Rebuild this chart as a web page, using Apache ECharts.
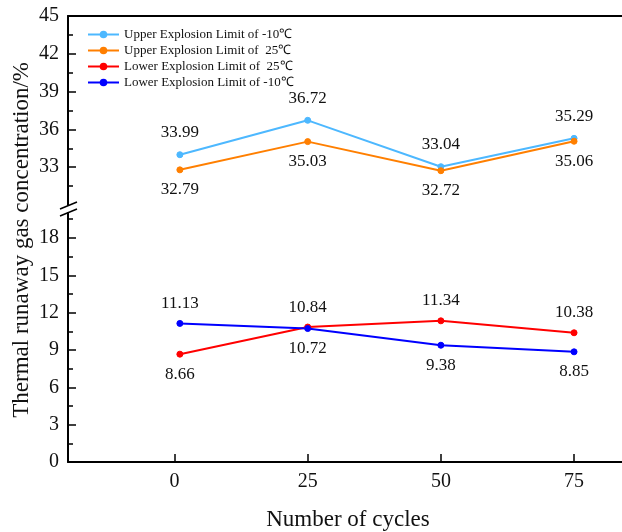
<!DOCTYPE html>
<html>
<head>
<meta charset="utf-8">
<script src="https://cdn.jsdelivr.net/npm/echarts@6/dist/echarts.min.js"></script>
<style>
  html, body { margin: 0; padding: 0; background: #fff; }
  #chart { width: 622px; height: 532px; }
</style>
</head>
<body>
<div id="chart"></div>
<script>
// cycles (first point is cycle 1, drawn just right of the 0 tick)
var cycles = [1, 25, 50, 75];
var xTicks = [0, 25, 50, 75];
var upperTicks = [33, 36, 39, 42, 45];
var lowerTicks = [0, 3, 6, 9, 12, 15, 18];

var names = [
  'Upper Explosion Limit of -10\u2103',
  'Upper Explosion Limit of  25\u2103',
  'Lower Explosion Limit of  25\u2103',
  'Lower Explosion Limit of -10\u2103'
];
var upperCold = [33.99, 36.72, 33.04, 35.29];
var upperWarm = [32.79, 35.03, 32.72, 35.06];
var lowerWarm = [8.66, 10.84, 11.34, 10.38];
var lowerCold = [11.13, 10.72, 9.38, 8.85];

var font = 'Liberation Serif, Times New Roman, serif';
var chart = echarts.init(document.getElementById('chart'));

function pts(vals, posFn) {
  return vals.map(function (v, i) {
    return { value: [cycles[i], v], label: { position: posFn(i) } };
  });
}

function lineSeries(name, color, x, y, data, dist) {
  return {
    name: name,
    type: 'line',
    xAxisIndex: x,
    yAxisIndex: y,
    data: data,
    symbol: 'circle',
    symbolSize: 6,
    lineStyle: { color: color, width: 2 },
    itemStyle: { color: color, borderColor: color, borderWidth: 1 },
    label: {
      show: true,
      distance: dist,
      color: '#111',
      fontFamily: font,
      fontSize: 17,
      formatter: function (p) { return p.value[1].toFixed(2); }
    },
    z: 3
  };
}

var xBase = {
  type: 'value',
  min: -20,
  max: 84,
  splitLine: { show: false },
  axisLine: { show: true, onZero: false, lineStyle: { color: '#000', width: 2 } }
};

var yBase = {
  type: 'value',
  interval: 3,
  splitLine: { show: false },
  axisLine: { show: true, onZero: false, lineStyle: { color: '#000', width: 2 } },
  axisTick: { show: true, inside: true, length: 8, lineStyle: { color: '#000', width: 1.5 } },
  minorTick: { show: true, splitNumber: 2, length: 5, lineStyle: { color: '#000', width: 1.5 } },
  axisLabel: { color: '#111', fontFamily: font, fontSize: 20, margin: 9 }
};

chart.setOption({
  backgroundColor: '#fff',
  animation: false,
  grid: [
    { left: 68, top: 16, right: 0, height: 189 },
    { left: 68, top: 213, right: 0, height: 251 }
  ],
  legend: {
    left: 82,
    top: 23,
    orient: 'vertical',
    itemWidth: 31,
    itemHeight: 7,
    itemGap: 3,
    data: names,
    textStyle: { fontFamily: font, fontSize: 13, color: '#111' }
  },
  xAxis: [
    Object.assign({}, xBase, {
      gridIndex: 0,
      position: 'top',
      axisTick: { show: false },
      axisLabel: { show: false }
    }),
    Object.assign({}, xBase, {
      gridIndex: 1,
      position: 'bottom',
      name: 'Number of cycles',
      nameLocation: 'middle',
      nameGap: 46,
      nameTextStyle: { fontFamily: font, fontSize: 23, color: '#111', padding: [0, 0, 0, 6] },
      axisTick: { show: true, inside: true, length: 8, customValues: xTicks, lineStyle: { color: '#000', width: 1.5 } },
      axisLabel: { color: '#111', fontFamily: font, fontSize: 20, margin: 10, customValues: xTicks }
    })
  ],
  yAxis: [
    Object.assign({}, yBase, {
      gridIndex: 0,
      min: 30,
      max: 45,
      axisTick: Object.assign({}, yBase.axisTick, { customValues: upperTicks }),
      axisLabel: Object.assign({}, yBase.axisLabel, { customValues: upperTicks })
    }),
    Object.assign({}, yBase, {
      gridIndex: 1,
      min: 0,
      max: 20,
      axisTick: Object.assign({}, yBase.axisTick, { customValues: lowerTicks }),
      axisLabel: Object.assign({}, yBase.axisLabel, { customValues: lowerTicks })
    })
  ],
  graphic: [
    {
      type: 'text',
      left: 10,
      top: 62,
      rotation: Math.PI / 2,
      style: {
        text: 'Thermal runaway gas concentration/%',
        fontFamily: font,
        fontSize: 23,
        fill: '#111'
      }
    },
    { type: 'line', shape: { x1: 60, y1: 209, x2: 77, y2: 202 }, style: { stroke: '#000', lineWidth: 1.5 } },
    { type: 'line', shape: { x1: 60, y1: 216, x2: 77, y2: 209 }, style: { stroke: '#000', lineWidth: 1.5 } }
  ],
  series: [
    lineSeries(names[0], '#4db8ff', 0, 0, pts(upperCold, function () { return 'top'; }), 10),
    lineSeries(names[1], '#ff7f00', 0, 0, pts(upperWarm, function () { return 'bottom'; }), 8),
    lineSeries(names[2], '#ff0000', 1, 1, pts(lowerWarm, function (i) { return i === 0 ? 'bottom' : 'top'; }), 8),
    lineSeries(names[3], '#0000ff', 1, 1, pts(lowerCold, function (i) { return i === 0 ? 'top' : 'bottom'; }), 8)
  ]
});
</script>
</body>
</html>
